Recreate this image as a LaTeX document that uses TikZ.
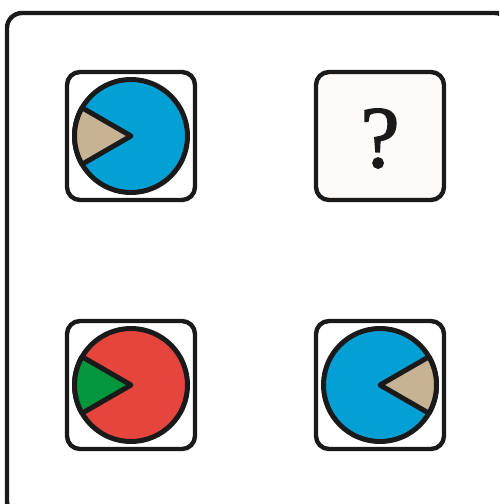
\documentclass[tikz,border=0pt]{standalone}
\usepackage{fontspec}
\newfontfamily\qfont[FakeBold=1.6]{Liberation Serif}
\definecolor{ink}{HTML}{1A1A1A}
\definecolor{pieblue}{HTML}{03A0D5}
\definecolor{pietan}{HTML}{C7B393}
\definecolor{piered}{HTML}{E5453D}
\definecolor{piegreen}{HTML}{03963F}
\definecolor{qfill}{HTML}{FCFBF9}
\tikzset{
  frame/.style={draw=ink, line width=4.4pt, rounded corners=15pt, fill=white},
  tile/.style={draw=ink, line width=4.4pt, rounded corners=13pt, minimum size=128pt, inner sep=0pt, fill=white},
  disc/.style={draw=ink, line width=5pt, circle, minimum size=113pt, inner sep=0pt},
  slice/.style={draw=ink, line width=5pt, line join=round}
}
\begin{document}
\begin{tikzpicture}[x=1pt,y=-1pt]
\useasboundingbox (0,0) rectangle (499,504);
\clip (0,0) rectangle (499,504);
\fill[white] (0,0) rectangle (499,504);
\draw[frame] (7,13) rectangle (510,516);
% tile 1
\node[tile] (t1) at (131,136) {};
\node[disc, fill=pieblue] (d1) at (t1.center) {};
\filldraw[slice, fill=pietan] (d1.center) -- ++(150:56.5) arc[start angle=150, end angle=210, radius=56.5] -- cycle;
% tile 2
\node[tile, fill=qfill] (t2) at (380,136) {};
\node[font=\qfont\fontsize{88}{88}\selectfont, text=ink, inner sep=0pt, anchor=base] (q) at ([yshift=-31pt]t2.center) {?};
% tile 3
\node[tile] (t3) at (131,385) {};
\node[disc, fill=piered] (d3) at (t3.center) {};
\filldraw[slice, fill=piegreen] (d3.center) -- ++(150:56.5) arc[start angle=150, end angle=210, radius=56.5] -- cycle;
% tile 4
\node[tile] (t4) at (380,385) {};
\node[disc, fill=pieblue] (d4) at (t4.center) {};
\filldraw[slice, fill=pietan] (d4.center) -- ++(-30:56.5) arc[start angle=-30, end angle=30, radius=56.5] -- cycle;
\end{tikzpicture}
\end{document}
